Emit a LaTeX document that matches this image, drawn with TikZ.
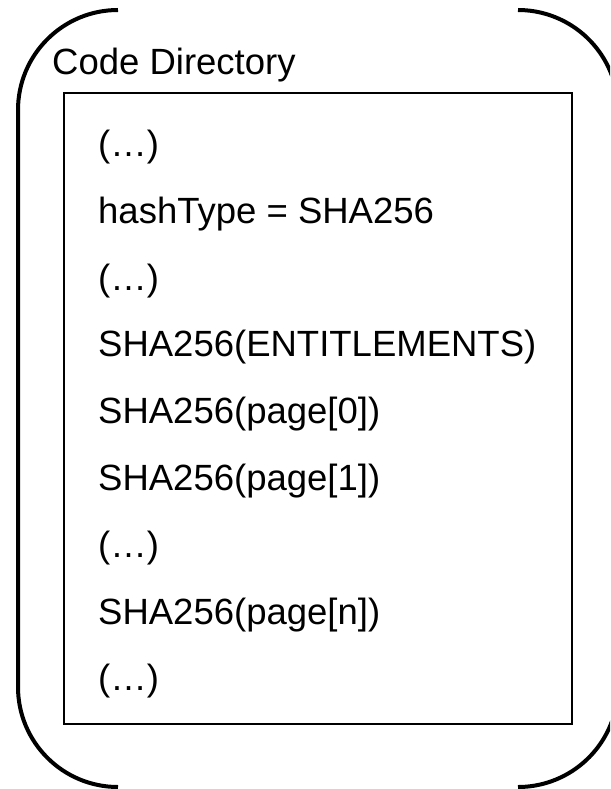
\documentclass[tikz,border=0pt]{standalone}
\usepackage{fontspec}
\setmainfont{Liberation Sans}
\begin{document}
\begin{tikzpicture}[x=1pt,y=-1pt,
  bracket/.style={line width=4pt,line cap=butt},
  listbox/.style={draw,line width=1.8pt,rectangle,inner sep=0pt,anchor=north west,
    minimum width=508pt,minimum height=631pt},
  entry/.style={anchor=base west,inner sep=0pt,font=\fontsize{36.5}{40}\selectfont},
  title/.style={anchor=base west,inner sep=0pt,font=\fontsize{36.5}{40}\selectfont}]
\fill[white] (0,0) rectangle (610,789);
\clip (0,0) rectangle (610,789);

% outer brackets: the left half of a rounded frame, and the two right corners
% as far as they fall on the page; y grows downward
\draw[bracket] (118,10) arc[start angle=270,end angle=180,radius=100]
  -- (18,687) arc[start angle=180,end angle=90,radius=100];
\draw[bracket] (518,10) arc[start angle=270,end angle=340,radius=100];
\draw[bracket] (518,787) arc[start angle=90,end angle=20,radius=100];

\node[title] (cdtitle) at (52,75) {Code Directory};

% inner listing box
\node[listbox] (cdbox) at (63,92) {};

\node[entry] (l0) at (98,156) {(…)};
\node[entry] (l1) at (98,223) {hashType = SHA256};
\node[entry] (l2) at (98,290) {(…)};
\node[entry] (l3) at (98,356) {SHA256(ENTITLEMENTS)};
\node[entry] (l4) at (98,423) {SHA256(page[0])};
\node[entry] (l5) at (98,490) {SHA256(page[1])};
\node[entry] (l6) at (98,557) {(…)};
\node[entry] (l7) at (98,624) {SHA256(page[n])};
\node[entry] (l8) at (98,690) {(…)};
\end{tikzpicture}
\end{document}
